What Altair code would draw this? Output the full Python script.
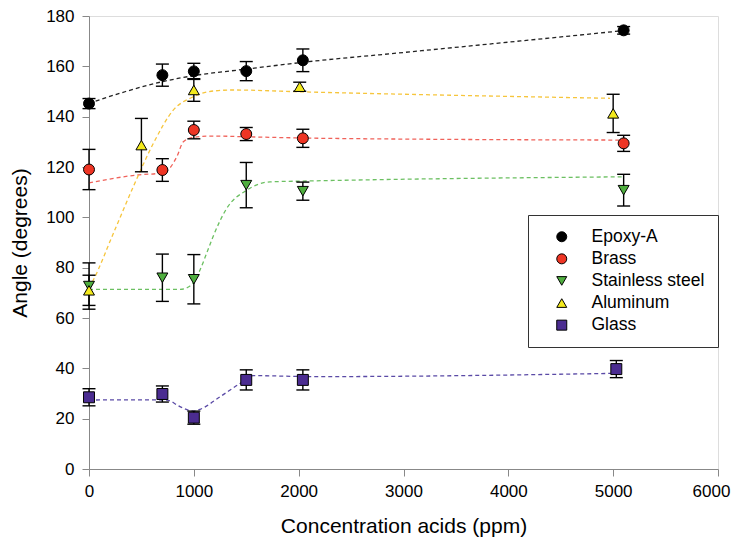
import altair as alt
import pandas as pd

FONT = "Liberation Sans"

series_names = ["Epoxy-A", "Brass", "Stainless steel", "Aluminum", "Glass"]
fill_colors = ["#000000", "#ee3524", "#4fae3f", "#f4ea1c", "#4b2c91"]
line_colors = ["#222222", "#f0625a", "#6cc062", "#f6c53c", "#5a4aa6"]
shapes = ["circle", "circle", "triangle-down", "triangle-up", "square"]

# measured points (x, angle, error)
epoxy_x = [0, 700, 1000, 1500, 2040, 5100]
epoxy_y = [145.2, 156.5, 158.0, 158.1, 162.4, 174.3]
epoxy_e = [2.0, 4.4, 3.2, 3.8, 4.5, 1.5]

brass_x = [0, 700, 1000, 1500, 2040, 5100]
brass_y = [119.0, 118.8, 134.7, 133.1, 131.4, 129.4]
brass_e = [8.0, 4.5, 3.5, 2.6, 3.6, 3.2]

steel_x = [0, 700, 1000, 1500, 2040, 5100]
steel_y = [72.7, 76.0, 75.4, 112.8, 110.4, 110.8]
steel_e = [9.2, 9.4, 9.8, 9.0, 3.6, 6.3]

alu_x = [0, 500, 1000, 2010, 5000]
alu_y = [71.0, 128.7, 150.6, 151.9, 141.3]
alu_e = [6.0, 10.6, 4.5, 1.8, 7.6]

glass_x = [0, 700, 1000, 1500, 2040, 5030]
glass_y = [28.5, 29.8, 20.4, 35.4, 35.4, 39.7]
glass_e = [3.4, 3.2, 2.6, 4.0, 4.0, 3.4]

# fitted (dashed) curves
epoxy_cx = [0, 350, 700, 1000, 1500, 2040, 3000, 4000, 5100]
epoxy_cy = [145.3, 150.0, 153.9, 156.3, 158.9, 161.6, 165.5, 169.6, 174.2]

brass_cx = [0, 455, 709, 837, 900, 995, 1186, 1505, 2230, 5100]
brass_cy = [113.7, 116.8, 117.7, 124.0, 130.0, 131.8, 132.3, 132.0, 131.4, 130.7]

steel_cx = [0, 500, 868, 964, 1059, 1123, 1183, 1314, 1505, 1727, 2040, 5100]
steel_cy = [71.4, 71.4, 71.4, 72.7, 79.1, 85.8, 92.3, 103.6, 110.8, 114.1, 114.4, 116.1]

alu_cx = [0, 41, 232, 423, 614, 804, 995, 1186, 1377, 2000, 4970]
alu_cy = [72.0, 75.1, 93.6, 112.2, 129.4, 142.6, 147.9, 150.2, 150.6, 149.9, 147.3]

glass_cx = [0, 400, 741, 868, 995, 1059, 1250, 1441, 1568, 2140, 5000]
glass_cy = [27.4, 27.5, 27.4, 24.8, 23.0, 23.7, 28.7, 34.0, 37.1, 36.7, 38.0]

pts = [(epoxy_x, epoxy_y, epoxy_e), (brass_x, brass_y, brass_e), (steel_x, steel_y, steel_e),
       (alu_x, alu_y, alu_e), (glass_x, glass_y, glass_e)]
crv = [(epoxy_cx, epoxy_cy), (brass_cx, brass_cy), (steel_cx, steel_cy),
       (alu_cx, alu_cy), (glass_cx, glass_cy)]

rows = []
for i, (name, (xs, ys, es)) in enumerate(zip(series_names, pts)):
    for x, y, e in zip(xs, ys, es):
        rows.append({"series": name, "order": i, "conc": x, "angle": y, "lo": y - e, "hi": y + e})
pdf = pd.DataFrame(rows)

crows = []
for i, (name, (xs, ys)) in enumerate(zip(series_names, crv)):
    for x, y in zip(xs, ys):
        crows.append({"series": name, "conc": x, "angle": y, "lcolor": line_colors[i]})
cdf = pd.DataFrame(crows)

xscale = alt.Scale(domain=[0, 6000], nice=False)
yscale = alt.Scale(domain=[0, 180], nice=False)

xaxis = alt.Axis(values=list(range(0, 6001, 1000)), format="d", title="Concentration acids (ppm)",
                 tickSize=7, labelFontSize=17, titleFontSize=21, grid=False, labelFlush=False,
                 labelOffset={"condition": {"test": "datum.value == 6000", "value": -7}, "value": 0},
                 labelPadding=7, titleY=46, titleBaseline="top", titleFontWeight="normal")
yaxis = alt.Axis(values=list(range(0, 181, 20)), title="Angle (degrees)", tickSize=7,
                 labelFontSize=17, titleFontSize=21, grid=False, labelPadding=8,
                 titleX=-69, titleY=226.5, titleBaseline="middle", titleFontWeight="normal")

base_x = alt.X("conc:Q", scale=xscale, axis=xaxis)
base_y = alt.Y("angle:Q", scale=yscale, axis=yaxis)

curves = alt.Chart(cdf).mark_line(strokeDash=[4, 3], strokeWidth=1.3, interpolate="monotone").encode(
    x=base_x, y=base_y, detail="series:N", color=alt.Color("lcolor:N", scale=None)
)

bars = alt.Chart(pdf).mark_rule(color="black", strokeWidth=1.4).encode(
    x="conc:Q", y="lo:Q", y2="hi:Q"
)
caps_lo = alt.Chart(pdf).mark_tick(orient="horizontal", color="black", size=13, thickness=1.4, opacity=1).encode(
    x="conc:Q", y="lo:Q"
)
caps_hi = alt.Chart(pdf).mark_tick(orient="horizontal", color="black", size=13, thickness=1.4, opacity=1).encode(
    x="conc:Q", y="hi:Q"
)

legend = alt.Legend(title=None, orient="none", legendX=439, legendY=199, padding=13,
                    strokeColor="#333333", fillColor="white", labelFontSize=17.5, labelFont=FONT,
                    symbolSize=100, symbolOffset=12, labelOffset=21, rowPadding=3.1,
                    symbolStrokeColor="black", symbolStrokeWidth=1, labelColor="black")

points = alt.Chart(pdf).mark_point(filled=True, opacity=1, stroke="black", strokeWidth=1, size=120).encode(
    x="conc:Q", y="angle:Q",
    color=alt.Color("series:N", scale=alt.Scale(domain=series_names, range=fill_colors), legend=legend),
    shape=alt.Shape("series:N", scale=alt.Scale(domain=series_names, range=shapes), legend=legend),
    order=alt.Order("order:Q"),
)

chart = alt.layer(curves, bars, caps_lo, caps_hi, points).properties(
    width=629, height=453,
    autosize=alt.AutoSizeParams(type="none"),
    padding={"left": 81, "top": 8, "right": 13, "bottom": 70},
).configure_view(
    stroke="#333333", strokeWidth=1.5
).configure_axis(
    domainColor="#333333", domainWidth=1.5, tickColor="#333333", tickWidth=1.3,
    labelFont=FONT, titleFont=FONT, labelColor="black", titleColor="black"
).configure(background="white")

chart.save("out.html", embed_options={"renderer": "svg", "actions": False})
